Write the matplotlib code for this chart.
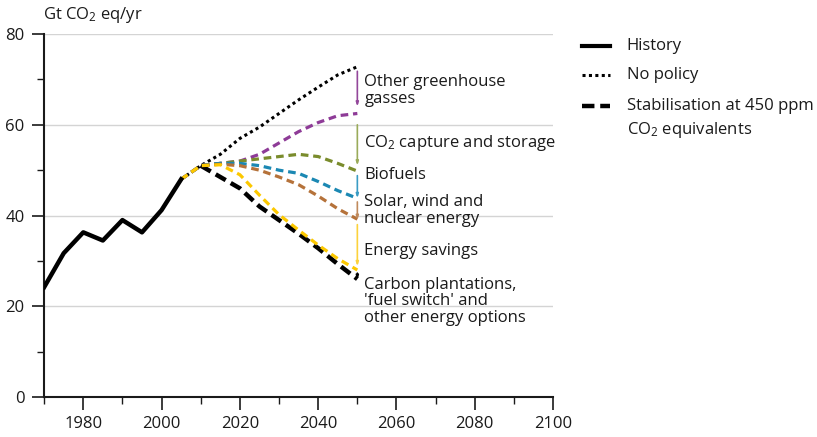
import numpy as np
import matplotlib
matplotlib.use("Agg")
import matplotlib.pyplot as plt
from matplotlib.lines import Line2D

plt.rcParams['font.family'] = ['Open Sans', 'DejaVu Sans']
plt.rcParams['mathtext.fontset'] = 'custom'
plt.rcParams['mathtext.rm'] = 'Open Sans'
plt.rcParams['mathtext.it'] = 'Open Sans'

# --- data (Gt CO2 eq/yr) ---
hist_years = [1970, 1975, 1980, 1985, 1990, 1995, 2000, 2005]
hist_vals = [24.2, 31.7, 36.3, 34.5, 39.0, 36.3, 41.2, 48.0]

scen_years = [2005, 2010, 2015, 2020, 2025, 2030, 2035, 2040, 2045, 2050]
no_policy = [48.0, 51.0, 53.5, 57.0, 59.5, 62.5, 65.5, 68.3, 71.0, 72.8]
other_ghg = [48.0, 51.0, 51.5, 52.0, 53.5, 56.0, 58.5, 60.5, 62.0, 62.5]
ccs = [48.0, 51.0, 51.5, 52.0, 52.5, 53.0, 53.5, 53.0, 51.5, 49.8]
biofuels = [48.0, 51.0, 51.5, 51.5, 51.0, 50.0, 49.3, 47.5, 45.5, 43.8]
solar = [48.0, 51.0, 51.3, 51.0, 50.0, 48.5, 46.8, 44.3, 41.5, 39.2]
savings = [48.0, 51.0, 51.2, 49.0, 44.5, 40.2, 36.8, 33.5, 30.5, 28.0]
stabilisation = [48.0, 51.0, 48.5, 46.0, 42.0, 39.0, 36.0, 32.8, 29.3, 26.0]

# vertical markers at 2050: (top, bottom)
arrow_spans = [(71.8, 64.0), (60.0, 51.0), (48.8, 43.8), (43.0, 39.0), (38.0, 28.8), (27.3, 25.8)]
arrow_colors = ['#93479a', '#9aab5a', '#3a9cc4', '#c08a5c', '#fcd23c', 'black']

labels = ["Other greenhouse\ngasses", "CO$_2$ capture and storage", "Biofuels",
          "Solar, wind and\nnuclear energy", "Energy savings",
          "Carbon plantations,\n'fuel switch' and\nother energy options"]
label_y = [67.6, 56.0, 48.9, 41.1, 32.2, 21.1]

fig = plt.figure(figsize=(8.17, 4.37), dpi=100)
ax = fig.add_axes([0.054, 0.0915, 0.623, 0.8305])

ax.set_xlim(1970, 2100)
ax.set_ylim(0, 80)
for g in [20, 40, 60, 80]:
    ax.axhline(g, color='#d4d4d4', lw=1.0, zorder=0)

dash = (0, (2.4, 1.5))
ax.plot(scen_years, no_policy, color='black', lw=2.2, ls=(0, (1, 1.1)), zorder=3)
ax.plot(scen_years, other_ghg, color='#8e3b97', lw=2.3, ls=dash, zorder=3)
ax.plot(scen_years, ccs, color='#7a8c2c', lw=2.3, ls=dash, zorder=3)
ax.plot(scen_years, biofuels, color='#1b88b3', lw=2.3, ls=dash, zorder=3)
ax.plot(scen_years, solar, color='#b5723a', lw=2.3, ls=dash, zorder=3)
ax.plot(scen_years[1:], stabilisation[1:], color='black', lw=3.2, ls=(0, (2.6, 1.3)), zorder=3)
ax.plot(scen_years, savings, color='#fcc800', lw=2.3, ls=dash, zorder=4)
ax.plot(hist_years, hist_vals, color='black', lw=3.2, zorder=5)

for (top, bot), c in zip(arrow_spans, arrow_colors):
    ax.annotate('', xy=(2050, bot), xytext=(2050, top),
                arrowprops=dict(arrowstyle='-|>,head_length=0.22,head_width=0.07',
                                color=c, lw=1.2, shrinkA=0, shrinkB=0))

for txt, y in zip(labels, label_y):
    ax.text(2051.8, y, txt, fontsize=12, va='center', ha='left', color='#1a1a1a',
            linespacing=1.05)

ax.set_xticks([1980, 2000, 2020, 2040, 2060, 2080, 2100])
ax.set_xticks(range(1970, 2101, 10), minor=True)
ax.set_yticks([0, 20, 40, 60, 80])
ax.set_yticks([10, 30, 50, 70], minor=True)
ax.tick_params(axis='both', which='major', length=9, width=1.2, labelsize=12,
               colors='#1a1a1a')
ax.tick_params(axis='both', which='minor', length=5, width=1.0, colors='#1a1a1a')
ax.tick_params(axis='x', which='major', pad=5)
ax.tick_params(axis='y', which='major', pad=5)
for s in ['top', 'right']:
    ax.spines[s].set_visible(False)
for s in ['left', 'bottom']:
    ax.spines[s].set_linewidth(1.5)
    ax.spines[s].set_color('#1a1a1a')

fig.text(0.053, 0.965, "Gt CO$_2$ eq/yr", fontsize=12, ha='left', va='center',
         color='#1a1a1a')

# legend drawn by hand
leg_items = [("History", dict(lw=3.0, ls='-'), 0.8947),
             ("No policy", dict(lw=2.2, ls=(0, (1, 1.1))), 0.8284),
             ("Stabilisation at 450 ppm", dict(lw=3.2, ls=(0, (2.8, 1.3))), 0.7574)]
for name, style, y in leg_items:
    fig.add_artist(Line2D([0.712, 0.747], [y, y], color='black', transform=fig.transFigure, **style))
    fig.text(0.767, y, name, fontsize=12, ha='left', va='center', color='#1a1a1a')
fig.text(0.767, 0.7025, "CO$_2$ equivalents", fontsize=12, ha='left', va='center', color='#1a1a1a')

fig.savefig('out.png', dpi=100)
